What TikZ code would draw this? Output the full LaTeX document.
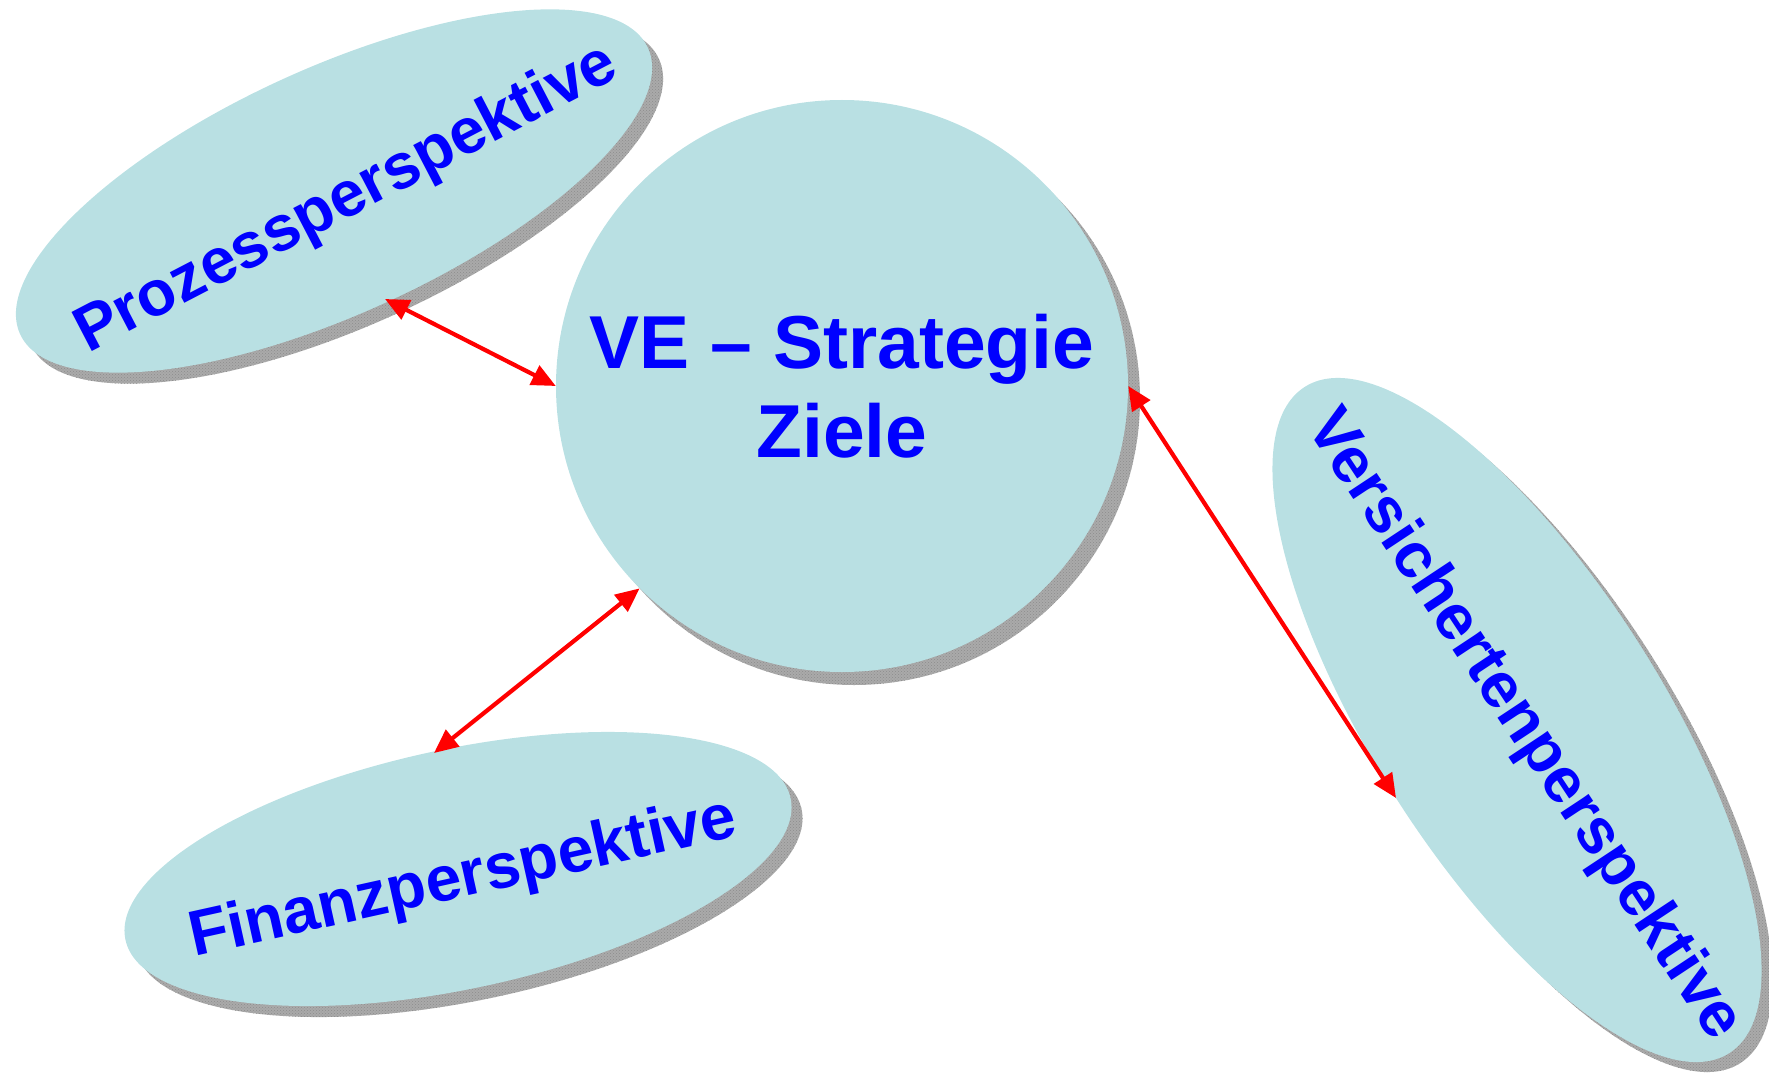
\documentclass[tikz,border=0pt]{standalone}
\usepackage{fontspec}
\setmainfont{Liberation Sans}
\usetikzlibrary{shapes.geometric,arrows.meta,patterns}
\definecolor{fillblue}{RGB}{185,224,227}
\definecolor{txtblue}{RGB}{0,0,255}
\definecolor{shgray}{RGB}{170,170,170}
\begin{document}
\begin{tikzpicture}[x=1pt,y=-1pt,
  blob/.style={ellipse, inner sep=0pt, fill=fillblue},
  lbl/.style={inner sep=0pt, text=txtblue, font=\fontsize{64}{72}\selectfont\bfseries},
  shadowblob/.style={ellipse, inner sep=0pt, fill=shgray,
    postaction={pattern=crosshatch dots, pattern color=black!45}},
  link/.style={draw=red, line width=4.2pt,
    {Triangle[length=24pt,width=21pt]}-{Triangle[length=24pt,width=21pt]}}]
\useasboundingbox (0,0) rectangle (1769,1075);
% shadows
\node[shadowblob, minimum width=690pt, minimum height=246pt, rotate=24.5] (pz-sh) at (345,202) {};
\node[shadowblob, minimum width=680pt, minimum height=240pt, rotate=12] (fi-sh) at (469,880) {};
\node[shadowblob, minimum width=790pt, minimum height=288pt, rotate=-57.5] (vs-sh) at (1528,730) {};
\node[shadowblob, circle, minimum size=572pt] (ve-sh) at (854,399) {};
% shapes
\node[blob, minimum width=690pt, minimum height=246pt, rotate=24.5] (pz) at (334,191) {};
\node[blob, minimum width=680pt, minimum height=240pt, rotate=12] (fi) at (458,869) {};
\node[blob, minimum width=790pt, minimum height=288pt, rotate=-57.5] (vs) at (1517,720) {};
\node[circle, inner sep=0pt, fill=fillblue, minimum size=572pt, text=txtblue, align=center,
  font=\fontsize{75}{89}\selectfont\bfseries] (ve) at (842,386) {VE -- Strategie\\Ziele};
% labels
\node[lbl, rotate=27.5] (pz-t) at (347,200) {Prozessperspektive};
\node[lbl, rotate=12.5] (fi-t) at (463,880) {Finanzperspektive};
\node[lbl, rotate=-56.5] (vs-t) at (1523,726) {Versichertenperspektive};
% arrow ends on the ellipses
\coordinate (pz-a) at (385,299);
\coordinate (fi-a) at (434,753);
\coordinate (vs-a) at (1396,798);
\draw[link] (pz-a) -- (ve.180);
\draw[link] (ve.225) -- (fi-a);
\draw[link] (ve.0) -- (vs-a);
\end{tikzpicture}
\end{document}
